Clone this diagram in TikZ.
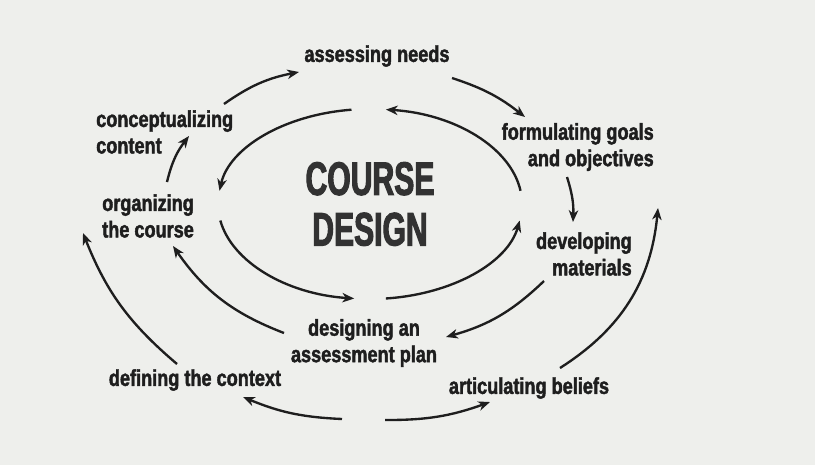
\documentclass[tikz,border=0pt]{standalone}
\usepackage{fontspec}
\newfontfamily\lfont[FakeStretch=0.79,FakeBold=1.8]{Liberation Sans Bold}
\newfontfamily\tfont[FakeStretch=0.64,FakeBold=2.2]{Liberation Sans Bold}
\usetikzlibrary{arrows.meta,calc}
\definecolor{paper}{RGB}{238,239,236}
\definecolor{ink}{RGB}{30,30,30}
\definecolor{titleink}{RGB}{50,50,50}
\begin{document}
\begin{tikzpicture}[x=0.85pt,y=0.85pt,
  lbl/.style={font=\lfont\fontsize{19.5}{22.5}\selectfont, text=ink, inner sep=0pt},
  arr/.style={draw=ink, line width=2pt, -{Stealth[length=10pt,width=8pt,inset=3pt]}}]
\fill[paper] (0,-465) rectangle (815,0);
\useasboundingbox (0,-465) rectangle (815,0);

% labels
\node[lbl] (needs) at (377,-56) {assessing needs};
\node[lbl, align=right, anchor=east] (goals) at (654,-147) {formulating goals\\and objectives};
\node[lbl, align=left, anchor=west] (concept) at (96,-132) {conceptualizing\\content};
\node[lbl, align=left, anchor=west] (organize) at (102,-216) {organizing\\the course};
\node[lbl, align=right, anchor=east] (develop) at (632,-254) {developing\\materials};
\node[lbl, align=center] (assess) at (364,-343) {designing an\\assessment plan};
\node[lbl] (context) at (195,-380) {defining the context};
\node[lbl] (beliefs) at (529,-388) {articulating beliefs};
\node[font=\tfont\fontsize{40}{43}\selectfont, text=titleink, inner sep=0pt, align=center] (title) at (370,-204) {COURSE\\DESIGN};

% connector end points
\coordinate (a1s) at (224,-104); \coordinate (a1e) at (299,-72);
\coordinate (a2s) at (452,-78);  \coordinate (a2e) at (525,-117);
\coordinate (a3s) at (567,-177); \coordinate (a3e) at (573,-222);
\coordinate (a4s) at (544,-281); \coordinate (a4e) at (446,-337);
\coordinate (a5s) at (284,-333); \coordinate (a5e) at (173,-246);
\coordinate (a6s) at (167,-182); \coordinate (a6e) at (189,-136);
\coordinate (a7s) at (177,-364); \coordinate (a7e) at (83,-233);
\coordinate (a8s) at (342,-419); \coordinate (a8e) at (243,-397);
\coordinate (a9s) at (385,-420); \coordinate (a9e) at (490,-402);
\coordinate (a10s) at (560,-368); \coordinate (a10e) at (658,-208);

% outer and middle ring
\draw[arr] (a1s) to[bend left=12] (a1e);
\draw[arr] (a2s) to[bend left=10] (a2e);
\draw[arr] (a3s) to[bend left=10] (a3e);
\draw[arr] (a4s) to[bend left=14] (a4e);
\draw[arr] (a5s) to[bend left=17] (a5e);
\draw[arr] (a6s) to[bend left=12] (a6e);
\draw[arr] (a7s) to[bend left=14] (a7e);
\draw[arr] (a8s) to[bend left=10] (a8e);
\draw[arr] (a9s) to[bend right=10] (a9e);
\draw[arr] (a10s) to[bend right=26] (a10e);

% inner ring around the title
\draw[arr] ($(title)+(97:152 and 95)$) arc[start angle=97, end angle=172, x radius=152, y radius=95];
\draw[arr] ($(title)+(8:152 and 95)$) arc[start angle=8, end angle=84, x radius=152, y radius=95];
\draw[arr] ($(title)+(190:152 and 95)$) arc[start angle=190, end angle=264, x radius=152, y radius=95];
\draw[arr] ($(title)+(276:152 and 95)$) arc[start angle=276, end angle=350, x radius=152, y radius=95];
\end{tikzpicture}
\end{document}
